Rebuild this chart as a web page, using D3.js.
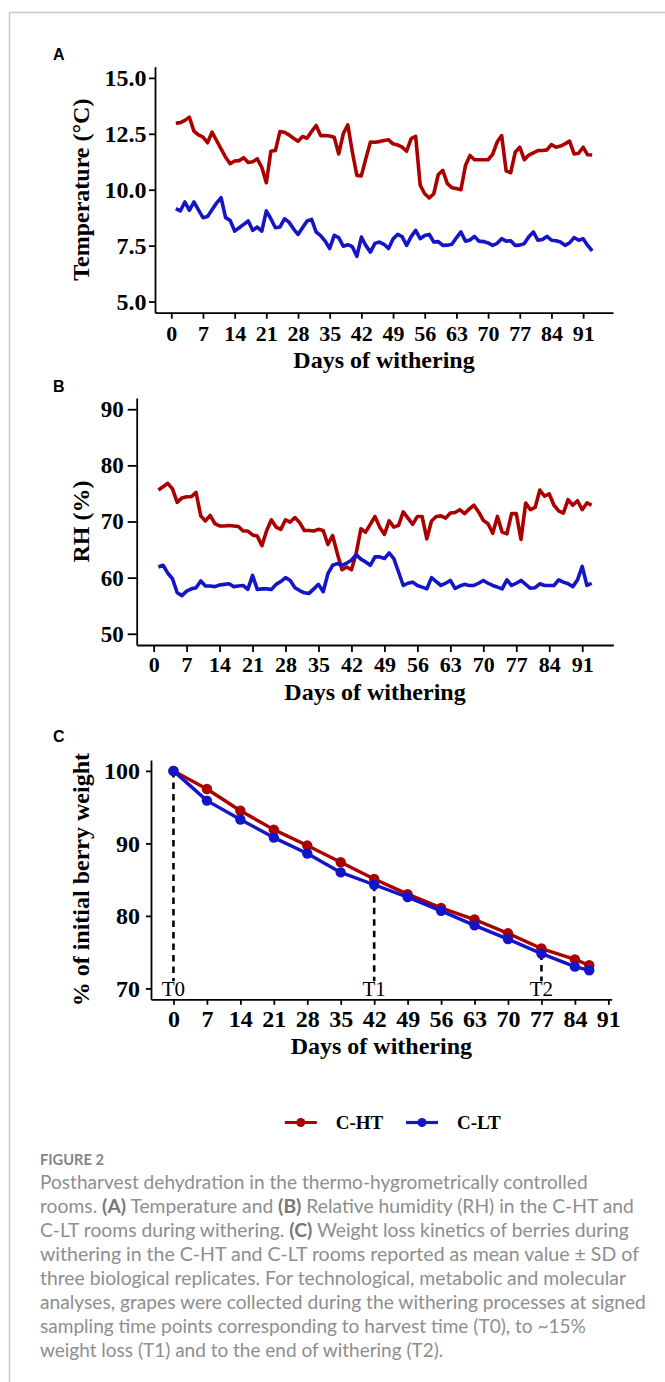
<!DOCTYPE html>
<html>
<head>
<meta charset="utf-8">
<script src="https://cdn.jsdelivr.net/npm/d3@7"></script>
<style>
  body { margin: 0; background: #fff; }
  svg text { font-family: 'Liberation Serif', 'Times New Roman', serif; }
</style>
</head>
<body>
<svg id="fig" width="665" height="1382"></svg>
<script>
// ---- data ----
const days = [
  1, 2, 3, 4, 5, 6, 7, 8, 9, 10, 11, 12, 13, 14, 15, 16, 17, 18, 19, 20,
  21, 22, 23, 24, 25, 26, 27, 28, 29, 30, 31, 32, 33, 34, 35, 36, 37, 38, 39, 40,
  41, 42, 43, 44, 45, 46, 47, 48, 49, 50, 51, 52, 53, 54, 55, 56, 57, 58, 59, 60,
  61, 62, 63, 64, 65, 66, 67, 68, 69, 70, 71, 72, 73, 74, 75, 76, 77, 78, 79, 80,
  81, 82, 83, 84, 85, 86, 87, 88, 89, 90, 91, 92, 93
];

const tempHT = [
  12.97, 13.0, 13.1, 13.24, 12.62, 12.45, 12.35, 12.1, 12.57, 12.2,
  11.83, 11.45, 11.16, 11.28, 11.3, 11.43, 11.22, 11.25, 11.38, 11.0,
  10.31, 11.72, 11.75, 12.6, 12.57, 12.45, 12.3, 12.17, 12.38, 12.3,
  12.6, 12.87, 12.42, 12.42, 12.4, 12.35, 11.6, 12.5, 12.9, 11.7,
  10.64, 10.62, 11.4, 12.13, 12.12, 12.15, 12.2, 12.23, 12.05, 12.0,
  11.9, 11.72, 12.28, 12.38, 10.2, 9.82, 9.63, 9.82, 10.68, 10.86,
  10.27, 10.09, 10.05, 10.0, 11.08, 11.53, 11.34, 11.34, 11.34, 11.34,
  11.58, 12.13, 12.42, 10.83, 10.76, 11.68, 11.9, 11.34, 11.55, 11.65,
  11.75, 11.75, 11.78, 12.02, 11.9, 11.95, 12.05, 12.17, 11.6, 11.63,
  11.9, 11.56, 11.55
];
const tempLT = [
  9.15, 9.05, 9.45, 9.08, 9.45, 9.1, 8.75, 8.8, 9.1, 9.4,
  9.64, 8.75, 8.63, 8.15, 8.3, 8.45, 8.6, 8.18, 8.33, 8.15,
  9.05, 8.7, 8.3, 8.33, 8.7, 8.55, 8.25, 8.0, 8.3, 8.6,
  8.67, 8.11, 7.95, 7.7, 7.37, 7.96, 7.86, 7.47, 7.54, 7.45,
  7.02, 7.88, 7.5, 7.21, 7.6, 7.66, 7.56, 7.37, 7.8, 8.0,
  7.9, 7.51, 7.9, 8.18, 7.81, 7.95, 8.0, 7.66, 7.68, 7.51,
  7.52, 7.56, 7.85, 8.11, 7.7, 7.75, 7.91, 7.7, 7.68, 7.62,
  7.51, 7.6, 7.81, 7.7, 7.72, 7.51, 7.52, 7.59, 7.9, 8.11,
  7.74, 7.77, 7.91, 7.74, 7.72, 7.66, 7.51, 7.62, 7.86, 7.74,
  7.81, 7.51, 7.26
];

const rhHT = [
  75.6, 76.2, 76.8, 75.8, 73.4, 74.2, 74.4, 74.4, 75.2, 71.0,
  70.1, 71.1, 69.6, 69.2, 69.2, 69.3, 69.2, 69.1, 68.3, 68.3,
  67.6, 67.4, 65.7, 68.4, 70.3, 69.0, 68.6, 70.3, 69.9, 70.7,
  69.8, 68.4, 68.4, 68.3, 68.6, 68.4, 65.9, 67.5, 64.3, 61.4,
  61.9, 61.4, 64.3, 68.7, 68.1, 69.5, 70.9, 69.0, 67.7, 70.1,
  69.0, 69.3, 71.7, 70.6, 69.5, 70.9, 70.9, 66.9, 70.1, 70.9,
  71.0, 70.6, 71.5, 71.6, 72.1, 71.4, 72.2, 72.9, 71.7, 70.2,
  69.6, 67.9, 70.9, 68.1, 67.8, 71.4, 71.4, 66.8, 73.3, 72.1,
  72.5, 75.6, 74.5, 74.9, 72.9, 71.9, 71.5, 73.9, 72.9, 73.7,
  72.1, 73.3, 72.9
];
const rhLT = [
  61.9, 62.2, 60.8, 59.8, 57.3, 56.8, 57.6, 58.0, 58.2, 59.4,
  58.5, 58.5, 58.4, 58.7, 58.8, 58.9, 58.4, 58.5, 58.6, 57.9,
  60.4, 57.9, 58.0, 58.0, 57.9, 58.8, 59.3, 60.0, 59.5, 58.2,
  57.7, 57.3, 57.2, 58.0, 58.8, 57.5, 60.7, 62.2, 62.5, 62.2,
  62.6, 63.1, 64.1, 63.3, 62.8, 62.2, 63.7, 63.7, 63.4, 64.4,
  63.4, 61.0, 58.6, 59.0, 59.2, 58.6, 58.3, 58.0, 60.0, 59.3,
  58.6, 59.0, 59.5, 58.1, 58.5, 58.8, 58.6, 58.6, 59.0, 59.5,
  59.0, 58.6, 58.3, 58.0, 59.6, 58.6, 59.0, 59.5, 58.8, 58.1,
  58.2, 58.9, 58.6, 58.6, 58.6, 59.6, 59.2, 58.9, 58.4, 59.6,
  62.0, 58.6, 59.0
];

const weightDays = [0, 7, 14, 21, 28, 35, 42, 49, 56, 63, 70, 77, 84, 87];
const weightHT = [100, 97.5, 94.5, 91.9, 89.7, 87.4, 85.1, 83.0, 81.1, 79.5, 77.6, 75.5, 74.0, 73.2];
const weightLT = [100, 95.9, 93.3, 90.8, 88.6, 86.0, 84.3, 82.6, 80.7, 78.7, 76.8, 74.8, 73.0, 72.5];

const samplingLabels = ['T0', 'T1', 'T2'];
const samplingDays = [0, 42, 77];

const dayTicks = [0, 7, 14, 21, 28, 35, 42, 49, 56, 63, 70, 77, 84, 91];
const tempTicks = [5, 7.5, 10, 12.5, 15];
const rhTicks = [50, 60, 70, 80, 90];
const weightTicks = [70, 80, 90, 100];

const seriesNames = ['C-HT', 'C-LT'];
const seriesColors = ['#ab0000', '#1515c8'];

const captionTitle = 'FIGURE 2';
const captionLines = [
  'Postharvest dehydration in the thermo-hygrometrically controlled',
  'rooms. (A) Temperature and (B) Relative humidity (RH) in the C-HT and',
  'C-LT rooms during withering. (C) Weight loss kinetics of berries during',
  'withering in the C-HT and C-LT rooms reported as mean value \u00b1 SD of',
  'three biological replicates. For technological, metabolic and molecular',
  'analyses, grapes were collected during the withering processes at signed',
  'sampling time points corresponding to harvest time (T0), to ~15%',
  'weight loss (T1) and to the end of withering (T2).'
];

// ---- drawing ----
const svg = d3.select('#fig');

// page frame
svg.append('line').attr('x1', 9.5).attr('y1', 12.5).attr('x2', 665).attr('y2', 12.5)
  .attr('stroke', '#c6c6c6').attr('stroke-width', 1.5);
svg.append('line').attr('x1', 9.5).attr('y1', 12.5).attr('x2', 9.5).attr('y2', 1382)
  .attr('stroke', '#c6c6c6').attr('stroke-width', 1.5);

function drawPanel(opt) {
  const g = svg.append('g');
  const x = d3.scaleLinear().domain(opt.xDomain).range([opt.left, opt.right]);
  const y = d3.scaleLinear().domain(opt.yDomain).range([opt.bottom, opt.top]);

  // panel letter
  g.append('text')
    .attr('x', 53).attr('y', opt.letterY)
    .style('font-family', "'Liberation Sans', Arial, sans-serif")
    .style('font-weight', 'bold').style('font-size', '16px')
    .text(opt.letter);

  const xAxis = d3.axisBottom(x).tickValues(dayTicks)
    .tickSize(opt.xTick).tickPadding(opt.xPad).tickSizeOuter(0);
  const yAxis = d3.axisLeft(y).tickValues(opt.yTicks).tickFormat(opt.yFormat)
    .tickSize(opt.yTick).tickPadding(opt.yPad).tickSizeOuter(0);

  const gx = g.append('g').attr('transform', `translate(0,${opt.bottom})`).call(xAxis);
  const gy = g.append('g').attr('transform', `translate(${opt.left},0)`).call(yAxis);
  [[gx, opt.xFont], [gy, opt.yFont]].forEach(([a, size]) => {
    a.select('.domain').attr('stroke', '#000').attr('stroke-width', 1.8);
    a.selectAll('.tick line').attr('stroke', '#000').attr('stroke-width', 1.8);
    a.selectAll('.tick text')
      .attr('fill', '#000')
      .style('font-family', "'Liberation Serif', 'Times New Roman', serif")
      .style('font-weight', 'bold')
      .style('font-size', size + 'px');
  });

  // axis titles
  g.append('text')
    .attr('x', (opt.left + opt.right) / 2).attr('y', opt.xTitleY)
    .attr('text-anchor', 'middle')
    .style('font-weight', 'bold').style('font-size', '24px')
    .text('Days of withering');
  g.append('text')
    .attr('transform', `translate(${opt.yTitleX},${(opt.top + opt.bottom) / 2}) rotate(-90)`)
    .attr('text-anchor', 'middle')
    .style('font-weight', 'bold').style('font-size', '24px')
    .text(opt.yTitle);

  return { g, x, y };
}

function drawSeries(p, xs, ys, color, width) {
  const pts = xs.map((d, i) => ({ d, v: ys[i] }));
  const line = d3.line().x(d => p.x(d.d)).y(d => p.y(d.v));
  p.g.append('path')
    .datum(pts)
    .attr('d', line)
    .attr('fill', 'none')
    .attr('stroke', color)
    .attr('stroke-width', width)
    .attr('stroke-linejoin', 'round')
    .attr('stroke-linecap', 'butt');
  return pts;
}

// Panel A - temperature
const pA = drawPanel({
  letter: 'A', letterY: 60,
  left: 155, right: 613, top: 66.7, bottom: 312.7,
  xDomain: [-3.6, 97.6], yDomain: [4.5, 15.5],
  yTicks: tempTicks, yFormat: d3.format('.1f'),
  xTick: 6, xPad: 7, yTick: 6, yPad: 2.5, xFont: 22, yFont: 24,
  xTitleY: 368, yTitleX: 89, yTitle: 'Temperature (\u00b0C)'
});
drawSeries(pA, days, tempHT, seriesColors[0], 3.6);
drawSeries(pA, days, tempLT, seriesColors[1], 3.6);

// Panel B - relative humidity
const pB = drawPanel({
  letter: 'B', letterY: 392,
  left: 136.7, right: 613.3, top: 398, bottom: 645,
  xDomain: [-3.6, 97.6], yDomain: [48, 92],
  yTicks: rhTicks, yFormat: d3.format('d'),
  xTick: 7, xPad: 4.5, yTick: 9, yPad: 4, xFont: 22, yFont: 23,
  xTitleY: 700, yTitleX: 89, yTitle: 'RH (%)'
});
drawSeries(pB, days, rhHT, seriesColors[0], 3.6);
drawSeries(pB, days, rhLT, seriesColors[1], 3.6);

// Panel C - weight loss
const pC = drawPanel({
  letter: 'C', letterY: 742,
  left: 151, right: 611.7, top: 760, bottom: 999.3,
  xDomain: [-4.7, 91.7], yDomain: [68.5, 101.5],
  yTicks: weightTicks, yFormat: d3.format('d'),
  xTick: 5.5, xPad: 5, yTick: 5, yPad: 6, xFont: 24, yFont: 24,
  xTitleY: 1054, yTitleX: 89, yTitle: '% of initial berry weight'
});

// sampling markers
samplingDays.forEach((day, i) => {
  const idx = weightDays.indexOf(day);
  pC.g.append('line')
    .attr('x1', pC.x(day)).attr('x2', pC.x(day))
    .attr('y1', pC.y(weightLT[idx])).attr('y2', pC.y(71))
    .attr('stroke', '#000').attr('stroke-width', 2.6)
    .attr('stroke-dasharray', '6.5,5');
  pC.g.append('text')
    .attr('x', pC.x(day)).attr('y', pC.y(70))
    .attr('dy', '0.35em')
    .attr('text-anchor', 'middle')
    .style('font-size', '21px')
    .text(samplingLabels[i]);
});

[weightHT, weightLT].forEach((vals, s) => {
  const pts = drawSeries(pC, weightDays, vals, seriesColors[s], 3.4);
  pC.g.selectAll(null)
    .data(pts)
    .enter()
    .append('circle')
    .attr('cx', d => pC.x(d.d))
    .attr('cy', d => pC.y(d.v))
    .attr('r', 5.2)
    .attr('fill', seriesColors[s]);
});

// legend
const legendX = [284.8, 406];
const legend = svg.append('g').attr('transform', 'translate(0,1122.5)');
seriesNames.forEach((name, i) => {
  const lx = legendX[i];
  legend.append('line')
    .attr('x1', lx).attr('x2', lx + 32).attr('y1', 0).attr('y2', 0)
    .attr('stroke', seriesColors[i]).attr('stroke-width', 3.2);
  legend.append('circle')
    .attr('cx', lx + 16).attr('cy', 0).attr('r', 4.5)
    .attr('fill', seriesColors[i]);
  legend.append('text')
    .attr('x', lx + 51).attr('y', 0).attr('dy', '0.35em')
    .style('font-weight', 'bold').style('font-size', '19px')
    .text(name);
});

// caption
const cap = svg.append('g');
cap.append('text')
  .attr('x', 40).attr('y', 1164.5)
  .attr('fill', '#858585')
  .attr('textLength', 64).attr('lengthAdjust', 'spacingAndGlyphs')
  .style('font-family', "Lato, 'Open Sans', sans-serif")
  .style('font-size', '15px').style('font-weight', 'bold')
  .text(captionTitle);

const lineEnds = [587.6, 633.8, 628.7, 639, 626, 645.8, 585.9, 443.3];
captionLines.forEach((ln, i) => {
  const t = cap.append('text')
    .attr('x', 40).attr('y', 1188.5 + i * 24)
    .attr('fill', '#8e8e8e')
    .attr('textLength', lineEnds[i] - 40)
    .attr('lengthAdjust', 'spacingAndGlyphs')
    .style('font-family', "Lato, 'Open Sans', sans-serif")
    .style('font-size', '18.5px');
  ln.split(/(\([ABC]\))/).forEach(part => {
    if (!part) return;
    const bold = /^\([ABC]\)$/.test(part);
    t.append('tspan')
      .style('font-weight', bold ? 'bold' : 'normal')
      .attr('fill', bold ? '#777777' : '#8e8e8e')
      .text(part);
  });
});
</script>
</body>
</html>
